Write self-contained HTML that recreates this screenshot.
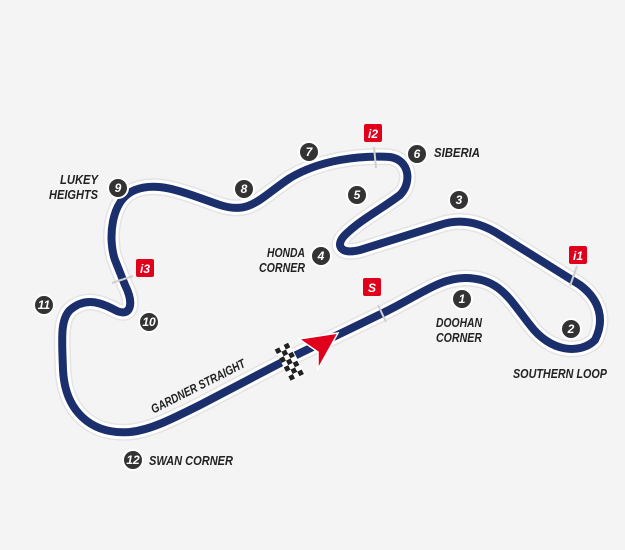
<!DOCTYPE html>
<html><head><meta charset="utf-8"><style>
html,body{margin:0;padding:0;background:#f4f4f4;}
svg{display:block;}
text{font-family:"Liberation Sans",sans-serif;font-weight:bold;font-style:italic;}
</style></head><body>
<svg width="625" height="550" viewBox="0 0 625 550">
<rect width="625" height="550" fill="#f4f4f4"/>
<defs>
<path id="trk" d="M 290 358 L 383 313 C 420 295, 440 278, 465 278 C 500 278, 510 300, 530 325 C 550 352, 580 355, 595 340 C 605 320, 600 300, 580 285 L 500 235 C 480 222, 460 218, 440 225 L 360 250 C 340 255, 335 245, 345 235 C 360 220, 380 210, 400 195 C 412 183, 410 160, 390 157 C 360 155, 320 160, 290 178 C 260 198, 250 215, 220 205 C 190 195, 160 180, 135 190 C 110 200, 108 240, 115 260 L 125 285 C 135 305, 130 318, 115 310 C 100 302, 85 297, 70 310 C 60 320, 62 340, 63 370 C 65 410, 90 435, 130 432 C 150 430, 170 420, 200 405 Z"/>
</defs>
<use href="#trk" fill="none" stroke="#e4e4e4" stroke-width="17" stroke-linejoin="round"/>
<use href="#trk" fill="none" stroke="#ffffff" stroke-width="14" stroke-linejoin="round"/>
<use href="#trk" fill="none" stroke="#1b2f6c" stroke-width="8" stroke-linejoin="round"/>
<g stroke="#cfcfcf" stroke-width="2">
<line x1="378" y1="305" x2="386" y2="322"/>
<line x1="374" y1="147" x2="376" y2="168"/>
<line x1="577" y1="266" x2="570" y2="286"/>
<line x1="112" y1="283" x2="133" y2="276"/>
</g>
<g transform="translate(290,362) rotate(-27)">
<rect x="-8" y="-18" width="16" height="36" fill="#fff"/>
<g fill="#222">
<rect x="-8" y="-18" width="5" height="5"/><rect x="2" y="-18" width="5" height="5"/>
<rect x="-3" y="-13" width="5" height="5"/>
<rect x="-8" y="-8" width="5" height="5"/><rect x="2" y="-8" width="5" height="5"/>
<rect x="-3" y="-3" width="5" height="5"/>
<rect x="-8" y="2" width="5" height="5"/><rect x="2" y="2" width="5" height="5"/>
<rect x="-3" y="7" width="5" height="5"/>
<rect x="-8" y="12" width="5" height="5"/><rect x="2" y="12" width="5" height="5"/>
</g></g>
<polygon points="299,339 338,333 318,369 318,352" fill="#e0001b" stroke="#fff" stroke-width="1.5"/>
<g font-size="12">
<rect x="364" y="124" width="18" height="18" rx="2" fill="#e0001b"/><text x="373" y="138" fill="#fff" text-anchor="middle">i2</text>
<rect x="569" y="246" width="18" height="18" rx="2" fill="#e0001b"/><text x="578" y="260" fill="#fff" text-anchor="middle">i1</text>
<rect x="136" y="259" width="18" height="18" rx="2" fill="#e0001b"/><text x="145" y="273" fill="#fff" text-anchor="middle">i3</text>
<rect x="363" y="278" width="18" height="18" rx="2" fill="#e0001b"/><text x="372" y="292" fill="#fff" text-anchor="middle">S</text>
</g>
<g font-size="12">
<g fill="#333" stroke="#fff" stroke-width="2">
<circle cx="462" cy="299" r="10"/><circle cx="571" cy="329" r="10"/><circle cx="459" cy="200" r="10"/>
<circle cx="321" cy="256" r="10"/><circle cx="357" cy="195" r="10"/><circle cx="417" cy="154" r="10"/>
<circle cx="309" cy="152" r="10"/><circle cx="244" cy="189" r="10"/><circle cx="118" cy="188" r="10"/>
<circle cx="149" cy="322" r="10"/><circle cx="44" cy="305" r="10"/><circle cx="133" cy="460" r="10"/>
</g>
<g fill="#fff" text-anchor="middle">
<text x="462" y="303">1</text><text x="571" y="333">2</text><text x="459" y="204">3</text>
<text x="321" y="260">4</text><text x="357" y="199">5</text><text x="417" y="158">6</text>
<text x="309" y="156">7</text><text x="244" y="193">8</text><text x="118" y="192">9</text>
<text x="149" y="326">10</text><text x="44" y="309">11</text><text x="133" y="464">12</text>
</g></g>
<g font-size="12.5" fill="#222">
<text x="434" y="157" textLength="46" lengthAdjust="spacingAndGlyphs">SIBERIA</text>
<text x="305" y="257" text-anchor="end" textLength="38" lengthAdjust="spacingAndGlyphs">HONDA</text>
<text x="305" y="272" text-anchor="end" textLength="46" lengthAdjust="spacingAndGlyphs">CORNER</text>
<text x="98" y="184" text-anchor="end" textLength="38" lengthAdjust="spacingAndGlyphs">LUKEY</text>
<text x="98" y="199" text-anchor="end" textLength="49" lengthAdjust="spacingAndGlyphs">HEIGHTS</text>
<text x="459" y="327" text-anchor="middle" textLength="46" lengthAdjust="spacingAndGlyphs">DOOHAN</text>
<text x="459" y="342" text-anchor="middle" textLength="46" lengthAdjust="spacingAndGlyphs">CORNER</text>
<text x="513" y="378" textLength="94" lengthAdjust="spacingAndGlyphs">SOUTHERN LOOP</text>
<text x="149" y="465" textLength="84" lengthAdjust="spacingAndGlyphs">SWAN CORNER</text>
<text x="200" y="390" text-anchor="middle" transform="rotate(-27 200 390)" textLength="104" lengthAdjust="spacingAndGlyphs">GARDNER STRAIGHT</text>
</g>
</svg>
</body></html>
